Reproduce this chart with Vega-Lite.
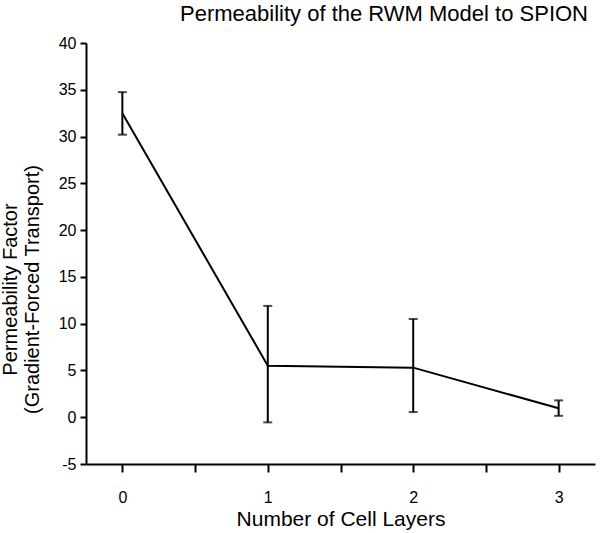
{
  "$schema": "https://vega.github.io/schema/vega-lite/v6.json",
  "width": 509,
  "height": 421,
  "autosize": {"type": "none"},
  "padding": {"left": 86, "top": 43, "right": 5, "bottom": 69},
  "background": "white",
  "config": {
    "font": "Liberation Sans",
    "view": {"stroke": null},
    "axis": {"grid": false, "domainColor": "black", "tickColor": "black", "labelColor": "black", "titleColor": "black", "domainWidth": 2, "tickWidth": 2, "labelFont": "Liberation Sans", "titleFont": "Liberation Sans", "titleFontWeight": "normal"}
  },
  "title": {"text": "Permeability of the RWM Model to SPION", "anchor": "end", "fontSize": 22, "fontWeight": "normal", "color": "black", "offset": 9, "dx": -7, "font": "Liberation Sans"},
  "data": {"values": [
    {"layers": 0, "factor": 32.5, "lo": 30.2, "hi": 34.75},
    {"layers": 1, "factor": 5.5, "lo": -0.55, "hi": 11.9},
    {"layers": 2, "factor": 5.3, "lo": 0.55, "hi": 10.5},
    {"layers": 3, "factor": 0.95, "lo": 0.15, "hi": 1.8}
  ]},
  "encoding": {
    "x": {"field": "layers", "type": "quantitative", "scale": {"domain": [-0.25, 3.25], "nice": false, "zero": false},
      "axis": {"title": "Number of Cell Layers", "values": [0, 0.5, 1, 1.5, 2, 2.5, 3], "labelExpr": "datum.value % 1 === 0 ? toString(datum.value) : ''", "tickSize": 8, "labelFontSize": 16, "labelPadding": 17, "titleFontSize": 21, "titlePadding": 3, "labelFlush": false}}
  },
  "layer": [
    {
      "mark": {"type": "line", "color": "black", "strokeWidth": 2},
      "encoding": {
        "y": {"field": "factor", "type": "quantitative", "title": ["Permeability Factor", "(Gradient-Forced Transport)"], "scale": {"domain": [-5, 40], "nice": false},
          "axis": {"values": [-5, -2.5, 0, 2.5, 5, 7.5, 10, 12.5, 15, 17.5, 20, 22.5, 25, 27.5, 30, 32.5, 35, 37.5, 40], "labelExpr": "datum.value % 5 === 0 ? toString(datum.value) : ''", "tickSize": 6, "labelFontSize": 16, "labelPadding": 4, "titleFontSize": 20, "titleLineHeight": 22, "titleX": -66, "titleY": 246, "titleBaseline": "bottom", "labelFlush": false}}
      }
    },
    {
      "mark": {"type": "errorbar", "color": "black", "thickness": 2, "ticks": {"size": 9, "thickness": 2, "color": "black"}},
      "encoding": {
        "y": {"field": "lo", "type": "quantitative", "title": ["Permeability Factor", "(Gradient-Forced Transport)"]},
        "y2": {"field": "hi"}
      }
    }
  ]
}
